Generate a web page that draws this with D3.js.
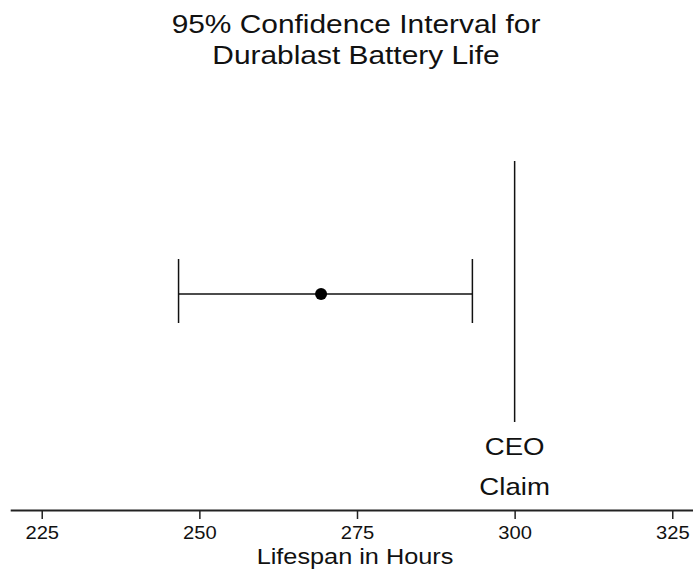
<!DOCTYPE html>
<html>
<head>
<meta charset="utf-8">
<script src="https://cdn.jsdelivr.net/npm/d3@7"></script>
<style>
  html, body { margin: 0; padding: 0; background: #fff; }
  svg { display: block; font-family: Arial, "Liberation Sans", sans-serif; }
</style>
</head>
<body>
<svg id="chart" width="693" height="569"></svg>
<script>
// Durablast battery life: 95% confidence interval vs. the CEO's claim
const titleLines = ["95% Confidence Interval for", "Durablast Battery Life"];
const xTicks = [225, 250, 275, 300, 325];
const estimate = [269.3];
const lower = [246.7];
const upper = [293.3];
const claimValue = [300];
const claimLabel = ["CEO", "Claim"];
const xTitle = "Lifespan in Hours";

const svg = d3.select("#chart");
const ink = "#111";
const stretch = 1.15; // text is set slightly wide

const x = d3.scaleLinear().domain([220, 330]).range([10.2, 703.8]);
const y = d3.scaleLinear().domain([0, 1]).range([422, 161]);

function wideText(sel, cx, by, size, str) {
  return sel.append("text")
    .attr("transform", `translate(${cx},${by}) scale(${stretch},1)`)
    .attr("text-anchor", "middle")
    .attr("font-size", size).attr("fill", ink)
    .text(str);
}

// Title
titleLines.forEach((t, i) => wideText(svg, 356, 32.5 + i * 31, 26, t));

// Axis
const axis = svg.append("g")
  .attr("transform", "translate(0,510)")
  .call(d3.axisBottom(x).tickValues(xTicks).tickSize(9).tickSizeOuter(0).tickFormat(d3.format("d")));
axis.select(".domain").attr("stroke", "#222").attr("stroke-width", 2);
axis.selectAll(".tick line").attr("stroke", "#222").attr("stroke-width", 1.5);
axis.selectAll(".tick text")
  .attr("font-size", 18).attr("font-family", "Arial, 'Liberation Sans', sans-serif")
  .attr("fill", ink).attr("dy", 0).attr("y", 0)
  .attr("transform", "translate(0,28.5) scale(1.12,1)");

wideText(svg, 355, 564, 22, xTitle);

// CEO claim reference line
const claim = svg.append("g");
claim.selectAll("line").data(claimValue).join("line")
  .attr("x1", d => x(d)).attr("x2", d => x(d))
  .attr("y1", y(1)).attr("y2", y(0))
  .attr("stroke", ink).attr("stroke-width", 1.5);
claimLabel.forEach((t, i) => wideText(claim, x(claimValue[0]), 455 + i * 40, 24, t));

// Confidence interval with caps and point estimate
const rows = estimate.map((m, i) => ({ m, lo: lower[i], hi: upper[i], yv: 0.49 }));
const ci = svg.append("g").selectAll("g").data(rows).join("g");
ci.append("line")
  .attr("x1", d => x(d.lo)).attr("x2", d => x(d.hi))
  .attr("y1", d => y(d.yv)).attr("y2", d => y(d.yv))
  .attr("stroke", ink).attr("stroke-width", 1.5);
ci.selectAll("line.cap").data(d => [d.lo, d.hi].map(v => ({ v, yv: d.yv }))).join("line")
  .attr("class", "cap")
  .attr("x1", d => x(d.v)).attr("x2", d => x(d.v))
  .attr("y1", 259).attr("y2", 323)
  .attr("stroke", ink).attr("stroke-width", 1.5);
ci.append("circle")
  .attr("cx", d => x(d.m)).attr("cy", d => y(d.yv))
  .attr("r", 6).attr("fill", "#000");
</script>
</body>
</html>
